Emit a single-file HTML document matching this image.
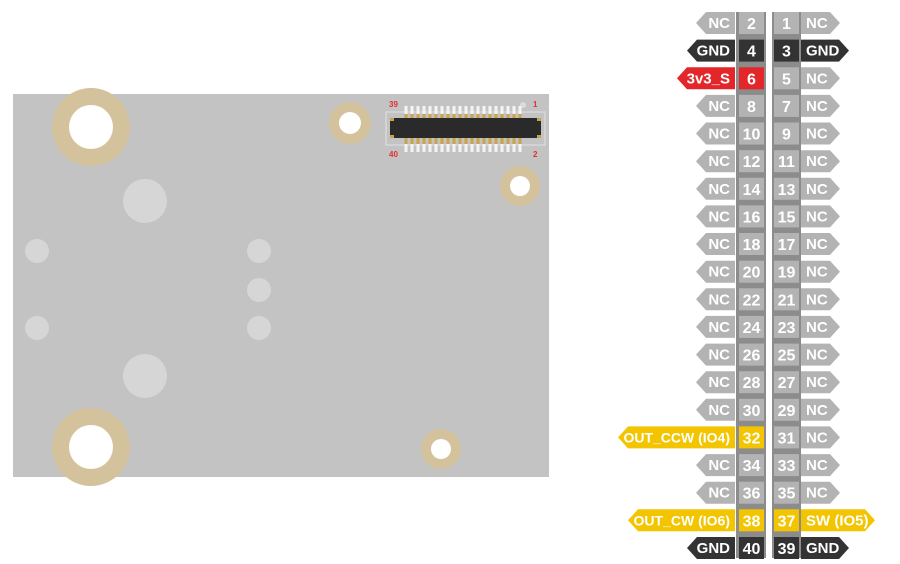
<!DOCTYPE html>
<html><head><meta charset="utf-8"><style>
html,body{margin:0;padding:0;background:#fff;}
svg{display:block;}
text{font-family:"Liberation Sans",sans-serif;font-weight:bold;fill:#fff;}
.t{font-size:15px;}
.s{font-size:14px;}
.n{font-size:16px;text-anchor:middle;}
.l{text-anchor:end;}
</style></head><body>
<svg width="900" height="564" viewBox="0 0 900 564" xmlns="http://www.w3.org/2000/svg">
<defs>
<pattern id="pins" x="404" y="0" width="6" height="60" patternUnits="userSpaceOnUse">
<rect x="0.5" y="0" width="3" height="60" fill="#f4f4f4"/>
</pattern>
<pattern id="gold" x="404" y="0" width="6" height="60" patternUnits="userSpaceOnUse">
<rect x="0.5" y="0" width="3" height="60" fill="#c9a24a"/>
</pattern>
</defs>
<rect x="13" y="94" width="536" height="383" fill="#c3c3c3"/>
<circle cx="91" cy="127" r="39" fill="#d3c29c"/><circle cx="91" cy="127" r="22" fill="#fff"/>
<circle cx="91" cy="447" r="39" fill="#d3c29c"/><circle cx="91" cy="447" r="22" fill="#fff"/>
<circle cx="350" cy="123" r="21" fill="#d3c29c"/><circle cx="350" cy="123" r="11" fill="#fff"/>
<circle cx="520" cy="186" r="20" fill="#d3c29c"/><circle cx="520" cy="186" r="10" fill="#fff"/>
<circle cx="441" cy="449" r="20" fill="#d3c29c"/><circle cx="441" cy="449" r="10" fill="#fff"/>
<circle cx="145" cy="201" r="22" fill="#d6d6d6"/>
<circle cx="145" cy="376" r="22" fill="#d6d6d6"/>
<circle cx="37" cy="251" r="12" fill="#d6d6d6"/>
<circle cx="37" cy="328" r="12" fill="#d6d6d6"/>
<circle cx="259" cy="251" r="12" fill="#d6d6d6"/>
<circle cx="259" cy="290" r="12" fill="#d6d6d6"/>
<circle cx="259" cy="328" r="12" fill="#d6d6d6"/>
<rect x="386" y="112" width="159" height="33" fill="none" stroke="#e2e2e2" stroke-width="1"/>
<circle cx="523" cy="105" r="3" fill="#dcdcdc"/>
<rect x="404" y="106" width="120" height="46" fill="url(#pins)"/>
<rect x="404" y="114" width="120" height="30" fill="url(#gold)"/>
<rect x="390" y="118" width="151" height="20" rx="2" fill="#2a2a2a"/>
<rect x="390" y="118" width="4" height="3" fill="#c9a24a"/><rect x="537" y="118" width="4" height="3" fill="#c9a24a"/>
<rect x="390" y="135" width="4" height="3" fill="#c9a24a"/><rect x="537" y="135" width="4" height="3" fill="#c9a24a"/>
<text x="389" y="107" style="font-size:8px;fill:#e03030">39</text>
<text x="533" y="107" style="font-size:8px;fill:#e03030">1</text>
<text x="389" y="157" style="font-size:8px;fill:#e03030">40</text>
<text x="533" y="157" style="font-size:8px;fill:#e03030">2</text>
<rect x="736" y="12" width="30" height="546" fill="#8c8c8c"/>
<rect x="772" y="12" width="29" height="546" fill="#8c8c8c"/>

<g transform="translate(0,23)"><polygon points="735,-11 706,-11 696,0 706,11 735,11" fill="#b3b3b3"/><text class="t l" x="730" y="5">NC</text><rect x="739" y="-11" width="25" height="22" fill="#b3b3b3"/><text class="n" x="751.5" y="6">2</text><rect x="774" y="-11" width="25" height="22" fill="#b3b3b3"/><text class="n" x="786.5" y="6">1</text><polygon points="801,-11 830,-11 840,0 830,11 801,11" fill="#b3b3b3"/><text class="t" x="806" y="5">NC</text></g>
<g transform="translate(0,50.6)"><polygon points="735,-11 697,-11 687,0 697,11 735,11" fill="#333"/><text class="t l" x="730" y="5">GND</text><rect x="739" y="-11" width="25" height="22" fill="#333"/><text class="n" x="751.5" y="6">4</text><rect x="774" y="-11" width="25" height="22" fill="#333"/><text class="n" x="786.5" y="6">3</text><polygon points="801,-11 839,-11 849,0 839,11 801,11" fill="#333"/><text class="t" x="806" y="5">GND</text></g>
<g transform="translate(0,78.3)"><polygon points="735,-11 687,-11 677,0 687,11 735,11" fill="#e3262a"/><text class="t l" x="730" y="5">3v3_S</text><rect x="739" y="-11" width="25" height="22" fill="#e3262a"/><text class="n" x="751.5" y="6">6</text><rect x="774" y="-11" width="25" height="22" fill="#b3b3b3"/><text class="n" x="786.5" y="6">5</text><polygon points="801,-11 830,-11 840,0 830,11 801,11" fill="#b3b3b3"/><text class="t" x="806" y="5">NC</text></g>
<g transform="translate(0,105.9)"><polygon points="735,-11 706,-11 696,0 706,11 735,11" fill="#b3b3b3"/><text class="t l" x="730" y="5">NC</text><rect x="739" y="-11" width="25" height="22" fill="#b3b3b3"/><text class="n" x="751.5" y="6">8</text><rect x="774" y="-11" width="25" height="22" fill="#b3b3b3"/><text class="n" x="786.5" y="6">7</text><polygon points="801,-11 830,-11 840,0 830,11 801,11" fill="#b3b3b3"/><text class="t" x="806" y="5">NC</text></g>
<g transform="translate(0,133.5)"><polygon points="735,-11 706,-11 696,0 706,11 735,11" fill="#b3b3b3"/><text class="t l" x="730" y="5">NC</text><rect x="739" y="-11" width="25" height="22" fill="#b3b3b3"/><text class="n" x="751.5" y="6">10</text><rect x="774" y="-11" width="25" height="22" fill="#b3b3b3"/><text class="n" x="786.5" y="6">9</text><polygon points="801,-11 830,-11 840,0 830,11 801,11" fill="#b3b3b3"/><text class="t" x="806" y="5">NC</text></g>
<g transform="translate(0,161.2)"><polygon points="735,-11 706,-11 696,0 706,11 735,11" fill="#b3b3b3"/><text class="t l" x="730" y="5">NC</text><rect x="739" y="-11" width="25" height="22" fill="#b3b3b3"/><text class="n" x="751.5" y="6">12</text><rect x="774" y="-11" width="25" height="22" fill="#b3b3b3"/><text class="n" x="786.5" y="6">11</text><polygon points="801,-11 830,-11 840,0 830,11 801,11" fill="#b3b3b3"/><text class="t" x="806" y="5">NC</text></g>
<g transform="translate(0,188.8)"><polygon points="735,-11 706,-11 696,0 706,11 735,11" fill="#b3b3b3"/><text class="t l" x="730" y="5">NC</text><rect x="739" y="-11" width="25" height="22" fill="#b3b3b3"/><text class="n" x="751.5" y="6">14</text><rect x="774" y="-11" width="25" height="22" fill="#b3b3b3"/><text class="n" x="786.5" y="6">13</text><polygon points="801,-11 830,-11 840,0 830,11 801,11" fill="#b3b3b3"/><text class="t" x="806" y="5">NC</text></g>
<g transform="translate(0,216.4)"><polygon points="735,-11 706,-11 696,0 706,11 735,11" fill="#b3b3b3"/><text class="t l" x="730" y="5">NC</text><rect x="739" y="-11" width="25" height="22" fill="#b3b3b3"/><text class="n" x="751.5" y="6">16</text><rect x="774" y="-11" width="25" height="22" fill="#b3b3b3"/><text class="n" x="786.5" y="6">15</text><polygon points="801,-11 830,-11 840,0 830,11 801,11" fill="#b3b3b3"/><text class="t" x="806" y="5">NC</text></g>
<g transform="translate(0,244)"><polygon points="735,-11 706,-11 696,0 706,11 735,11" fill="#b3b3b3"/><text class="t l" x="730" y="5">NC</text><rect x="739" y="-11" width="25" height="22" fill="#b3b3b3"/><text class="n" x="751.5" y="6">18</text><rect x="774" y="-11" width="25" height="22" fill="#b3b3b3"/><text class="n" x="786.5" y="6">17</text><polygon points="801,-11 830,-11 840,0 830,11 801,11" fill="#b3b3b3"/><text class="t" x="806" y="5">NC</text></g>
<g transform="translate(0,271.7)"><polygon points="735,-11 706,-11 696,0 706,11 735,11" fill="#b3b3b3"/><text class="t l" x="730" y="5">NC</text><rect x="739" y="-11" width="25" height="22" fill="#b3b3b3"/><text class="n" x="751.5" y="6">20</text><rect x="774" y="-11" width="25" height="22" fill="#b3b3b3"/><text class="n" x="786.5" y="6">19</text><polygon points="801,-11 830,-11 840,0 830,11 801,11" fill="#b3b3b3"/><text class="t" x="806" y="5">NC</text></g>
<g transform="translate(0,299.3)"><polygon points="735,-11 706,-11 696,0 706,11 735,11" fill="#b3b3b3"/><text class="t l" x="730" y="5">NC</text><rect x="739" y="-11" width="25" height="22" fill="#b3b3b3"/><text class="n" x="751.5" y="6">22</text><rect x="774" y="-11" width="25" height="22" fill="#b3b3b3"/><text class="n" x="786.5" y="6">21</text><polygon points="801,-11 830,-11 840,0 830,11 801,11" fill="#b3b3b3"/><text class="t" x="806" y="5">NC</text></g>
<g transform="translate(0,326.9)"><polygon points="735,-11 706,-11 696,0 706,11 735,11" fill="#b3b3b3"/><text class="t l" x="730" y="5">NC</text><rect x="739" y="-11" width="25" height="22" fill="#b3b3b3"/><text class="n" x="751.5" y="6">24</text><rect x="774" y="-11" width="25" height="22" fill="#b3b3b3"/><text class="n" x="786.5" y="6">23</text><polygon points="801,-11 830,-11 840,0 830,11 801,11" fill="#b3b3b3"/><text class="t" x="806" y="5">NC</text></g>
<g transform="translate(0,354.6)"><polygon points="735,-11 706,-11 696,0 706,11 735,11" fill="#b3b3b3"/><text class="t l" x="730" y="5">NC</text><rect x="739" y="-11" width="25" height="22" fill="#b3b3b3"/><text class="n" x="751.5" y="6">26</text><rect x="774" y="-11" width="25" height="22" fill="#b3b3b3"/><text class="n" x="786.5" y="6">25</text><polygon points="801,-11 830,-11 840,0 830,11 801,11" fill="#b3b3b3"/><text class="t" x="806" y="5">NC</text></g>
<g transform="translate(0,382.2)"><polygon points="735,-11 706,-11 696,0 706,11 735,11" fill="#b3b3b3"/><text class="t l" x="730" y="5">NC</text><rect x="739" y="-11" width="25" height="22" fill="#b3b3b3"/><text class="n" x="751.5" y="6">28</text><rect x="774" y="-11" width="25" height="22" fill="#b3b3b3"/><text class="n" x="786.5" y="6">27</text><polygon points="801,-11 830,-11 840,0 830,11 801,11" fill="#b3b3b3"/><text class="t" x="806" y="5">NC</text></g>
<g transform="translate(0,409.8)"><polygon points="735,-11 706,-11 696,0 706,11 735,11" fill="#b3b3b3"/><text class="t l" x="730" y="5">NC</text><rect x="739" y="-11" width="25" height="22" fill="#b3b3b3"/><text class="n" x="751.5" y="6">30</text><rect x="774" y="-11" width="25" height="22" fill="#b3b3b3"/><text class="n" x="786.5" y="6">29</text><polygon points="801,-11 830,-11 840,0 830,11 801,11" fill="#b3b3b3"/><text class="t" x="806" y="5">NC</text></g>
<g transform="translate(0,437.4)"><polygon points="735,-11 628,-11 618,0 628,11 735,11" fill="#f2c500"/><text class="s l" x="730" y="5">OUT_CCW (IO4)</text><rect x="739" y="-11" width="25" height="22" fill="#f2c500"/><text class="n" x="751.5" y="6">32</text><rect x="774" y="-11" width="25" height="22" fill="#b3b3b3"/><text class="n" x="786.5" y="6">31</text><polygon points="801,-11 830,-11 840,0 830,11 801,11" fill="#b3b3b3"/><text class="t" x="806" y="5">NC</text></g>
<g transform="translate(0,465.1)"><polygon points="735,-11 706,-11 696,0 706,11 735,11" fill="#b3b3b3"/><text class="t l" x="730" y="5">NC</text><rect x="739" y="-11" width="25" height="22" fill="#b3b3b3"/><text class="n" x="751.5" y="6">34</text><rect x="774" y="-11" width="25" height="22" fill="#b3b3b3"/><text class="n" x="786.5" y="6">33</text><polygon points="801,-11 830,-11 840,0 830,11 801,11" fill="#b3b3b3"/><text class="t" x="806" y="5">NC</text></g>
<g transform="translate(0,492.7)"><polygon points="735,-11 706,-11 696,0 706,11 735,11" fill="#b3b3b3"/><text class="t l" x="730" y="5">NC</text><rect x="739" y="-11" width="25" height="22" fill="#b3b3b3"/><text class="n" x="751.5" y="6">36</text><rect x="774" y="-11" width="25" height="22" fill="#b3b3b3"/><text class="n" x="786.5" y="6">35</text><polygon points="801,-11 830,-11 840,0 830,11 801,11" fill="#b3b3b3"/><text class="t" x="806" y="5">NC</text></g>
<g transform="translate(0,520.3)"><polygon points="735,-11 638,-11 628,0 638,11 735,11" fill="#f2c500"/><text class="s l" x="730" y="5">OUT_CW (IO6)</text><rect x="739" y="-11" width="25" height="22" fill="#f2c500"/><text class="n" x="751.5" y="6">38</text><rect x="774" y="-11" width="25" height="22" fill="#f2c500"/><text class="n" x="786.5" y="6">37</text><polygon points="801,-11 865,-11 875,0 865,11 801,11" fill="#f2c500"/><text class="t" x="806" y="5">SW (IO5)</text></g>
<g transform="translate(0,548)"><polygon points="735,-11 697,-11 687,0 697,11 735,11" fill="#333"/><text class="t l" x="730" y="5">GND</text><rect x="739" y="-11" width="25" height="22" fill="#333"/><text class="n" x="751.5" y="6">40</text><rect x="774" y="-11" width="25" height="22" fill="#333"/><text class="n" x="786.5" y="6">39</text><polygon points="801,-11 839,-11 849,0 839,11 801,11" fill="#333"/><text class="t" x="806" y="5">GND</text></g>
</svg>
</body></html>
